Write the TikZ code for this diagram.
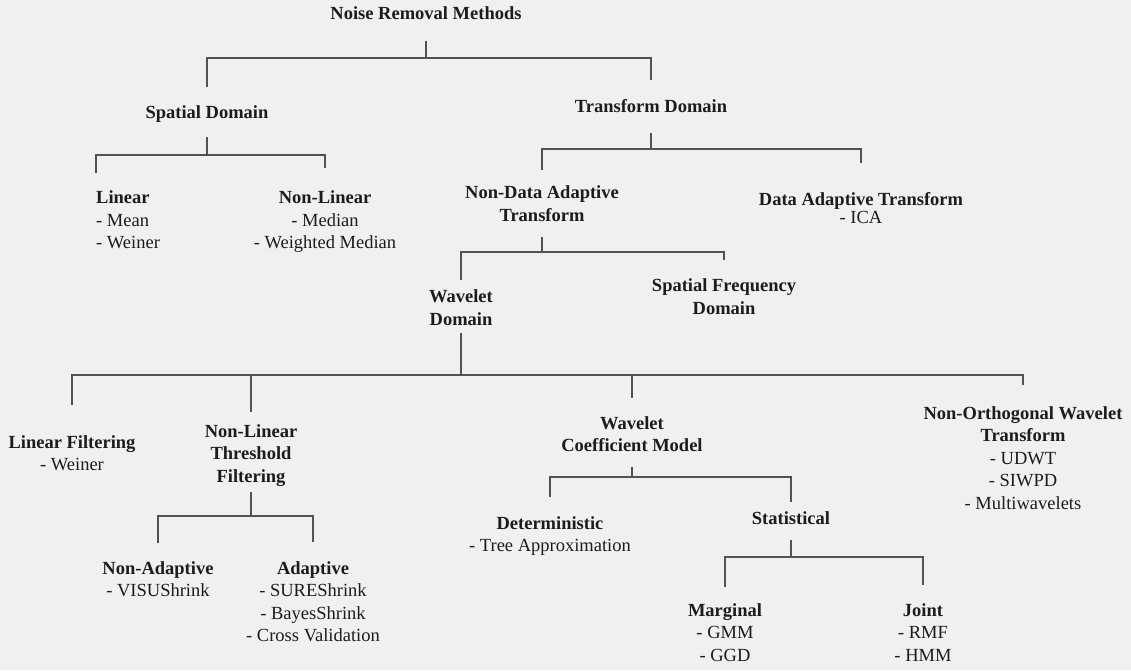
\documentclass[tikz,border=0pt]{standalone}
\usepackage{fontspec}
\setmainfont{Liberation Serif}
\definecolor{paper}{RGB}{240,240,238}
\definecolor{ink}{RGB}{28,28,28}
\definecolor{stemgray}{RGB}{82,82,82}

\begin{document}
\begin{tikzpicture}[x=1pt,y=-1pt]

\tikzset{entry/.style = {anchor=north, inner sep=0pt, align=center, text=ink, font=\fontsize{18.5}{22.5}\selectfont}}
\tikzset{branch/.style = {draw=stemgray, line width=1.6pt}}

\fill[paper] (0,0) rectangle (1131,670);
\useasboundingbox (0,0) rectangle (1131,670);

%nodes
\node[entry] (root) at (426,6.5) {\textbf{Noise Removal Methods}};

\node[entry] (sd) at (207,105.5) {\textbf{Spatial Domain}};
\node[entry] (td) at (651,99.5) {\textbf{Transform Domain}};

\node[entry, anchor=north west, align=left] (lin) at (96,190.5) {\textbf{Linear}\\- Mean\\- Weiner};
\node[entry] (nlin) at (325,190.5) {\textbf{Non-Linear}\\- Median\\- Weighted Median};
\node[entry] (nda) at (542,185.5) {\textbf{Non-Data Adaptive}\\\textbf{Transform}};
\node[entry] (dat) at (861,192.5) {\textbf{Data Adaptive Transform}\\[-5pt]- ICA};

\node[entry] (wd) at (461,289.5) {\textbf{Wavelet}\\\textbf{Domain}};
\node[entry] (sfd) at (724,278.5) {\textbf{Spatial Frequency}\\\textbf{Domain}};

\node[entry] (lf) at (72,435) {\textbf{Linear Filtering}\\- Weiner};
\node[entry] (nltf) at (251,424) {\textbf{Non-Linear}\\\textbf{Threshold}\\\textbf{Filtering}};
\node[entry] (wcm) at (632,416) {\textbf{Wavelet}\\\textbf{Coefficient Model}};
\node[entry] (nowt) at (1023,406) {\textbf{Non-Orthogonal Wavelet}\\\textbf{Transform}\\- UDWT\\- SIWPD\\- Multiwavelets};

\node[entry] (na) at (158,561) {\textbf{Non-Adaptive}\\- VISUShrink};
\node[entry] (ad) at (313,561) {\textbf{Adaptive}\\- SUREShrink\\- BayesShrink\\- Cross Validation};
\node[entry] (det) at (550,516) {\textbf{Deterministic}\\- Tree Approximation};
\node[entry] (stat) at (791,511) {\textbf{Statistical}};
\node[entry] (marg) at (725,603) {\textbf{Marginal}\\- GMM\\- GGD};
\node[entry] (joint) at (923,603) {\textbf{Joint}\\- RMF\\- HMM};

%branches
\draw[branch] (root.south |- 0,41) -- (root.south |- 0,58);
\draw[branch] (sd.north |- 0,87) |- (td.north |- 0,58) -- (td.north |- 0,80);

\draw[branch] (sd.south |- 0,137) -- (sd.south |- 0,155);
\draw[branch] (lin.north west |- 0,173) |- (nlin.north |- 0,155) -- (nlin.north |- 0,168);

\draw[branch] (td.south |- 0,133) -- (td.south |- 0,149);
\draw[branch] (nda.north |- 0,170) |- (dat.north |- 0,149) -- (dat.north |- 0,163);

\draw[branch] (nda.south |- 0,237) -- (nda.south |- 0,252);
\draw[branch] (wd.north |- 0,280) |- (sfd.north |- 0,252) -- (sfd.north |- 0,260);

\draw[branch] (wd.south |- 0,333) -- (wd.south |- 0,375);
\draw[branch] (lf.north |- 0,405) |- (nowt.north |- 0,375) -- (nowt.north |- 0,385);
\draw[branch] (nltf.north |- 0,375) -- (nltf.north |- 0,412);
\draw[branch] (wcm.north |- 0,375) -- (wcm.north |- 0,398);

\draw[branch] (nltf.south |- 0,492) -- (nltf.south |- 0,516);
\draw[branch] (na.north |- 0,543) |- (ad.north |- 0,516) -- (ad.north |- 0,542);

\draw[branch] (wcm.south |- 0,467) -- (wcm.south |- 0,477);
\draw[branch] (det.north |- 0,497) |- (stat.north |- 0,477) -- (stat.north |- 0,502);

\draw[branch] (stat.south |- 0,540) -- (stat.south |- 0,557);
\draw[branch] (marg.north |- 0,587) |- (joint.north |- 0,557) -- (joint.north |- 0,585);

\end{tikzpicture}
\end{document}
